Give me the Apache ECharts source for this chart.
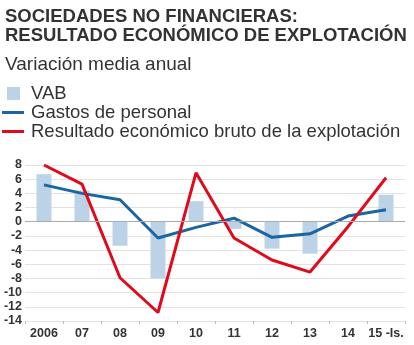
<!DOCTYPE html>
<html>
<head>
<meta charset="utf-8">
<script src="https://cdn.jsdelivr.net/npm/echarts@6/dist/echarts.min.js"></script>
<style>
html,body{margin:0;padding:0;background:#fff;}
#chart{width:414px;height:345px;}
</style>
</head>
<body>
<div id="chart"></div>
<script>
// Años y variación media anual (%)
const years = ['2006', '07', '08', '09', '10', '11', '12', '13', '14', '15 -Is.'];
const vab = [6.7, 4.4, -3.4, -8.0, 2.9, -1.0, -3.8, -4.5, 0, 3.8];
const gastosPersonal = [5.2, 4.0, 3.1, -2.3, -0.8, 0.5, -2.2, -1.7, 0.8, 1.7];
const resultadoBruto = [8.0, 5.3, -7.9, -12.8, 6.9, -2.3, -5.4, -7.1, -0.7, 6.2];

const names = ['VAB', 'Gastos de personal', 'Resultado económico bruto de la explotación'];
const FONT = '"Liberation Sans", Arial, sans-serif';
const TEXT = '#333';
const COL_BAR = '#bcd2e6';
const COL_BLUE = '#1a65a3';
const COL_RED = '#e10a1c';

const chart = echarts.init(document.getElementById('chart'));

const legendText = { fontFamily: FONT, fontSize: 18.5, color: TEXT };
const legendBase = {
  orient: 'vertical',
  itemGap: 0,
  selectedMode: false,
  padding: 0
};

chart.setOption({
  animation: false,
  textStyle: { fontFamily: FONT },
  title: [
    {
      text: 'SOCIEDADES NO FINANCIERAS:\nRESULTADO ECONÓMICO DE EXPLOTACIÓN',
      left: 5, top: 8, padding: 0,
      textStyle: { fontFamily: FONT, fontSize: 18.5, fontWeight: 'bold', color: TEXT, lineHeight: 18.5 }
    },
    {
      text: 'Variación media anual',
      left: 5, top: 55, padding: 0,
      textStyle: { fontFamily: FONT, fontSize: 19, fontWeight: 'normal', color: TEXT }
    }
  ],
  legend: [
    Object.assign({}, legendBase, {
      top: 84, left: 7, itemWidth: 13, itemHeight: 13,
      data: [{ name: names[0], icon: 'rect' }],
      textStyle: Object.assign({}, legendText, { padding: [0, 0, 0, 6] })
    }),
    Object.assign({}, legendBase, {
      top: 103, left: 2, itemWidth: 22, itemHeight: 3,
      data: [{ name: names[1], icon: 'rect' }],
      textStyle: Object.assign({}, legendText, { padding: [0, 0, 0, 2] })
    }),
    Object.assign({}, legendBase, {
      top: 122, left: 2, itemWidth: 22, itemHeight: 3,
      data: [{ name: names[2], icon: 'rect' }],
      textStyle: Object.assign({}, legendText, { padding: [0, 0, 0, 2] })
    })
  ],
  grid: { left: 25, right: 9, top: 165, bottom: 24 },
  xAxis: {
    type: 'category',
    data: years,
    axisLine: { show: false, onZero: false },
    axisTick: { show: true, length: 3, lineStyle: { color: '#bbb' } },
    axisLabel: {
      color: TEXT, fontWeight: 'bold', fontSize: 12.5, fontFamily: FONT, margin: 6,
      interval: 0, hideOverlap: false
    }
  },
  yAxis: {
    type: 'value',
    min: -14, max: 8, interval: 2,
    axisLine: { show: false },
    axisTick: { show: false },
    axisLabel: { color: TEXT, fontWeight: 'bold', fontSize: 12.5, fontFamily: FONT, margin: 3 },
    splitLine: { lineStyle: { color: '#e2e2e2', width: 1 } }
  },
  series: [
    {
      name: names[0], type: 'bar', data: vab, barWidth: 15,
      itemStyle: { color: COL_BAR },
      markLine: {
        silent: true, symbol: 'none', label: { show: false },
        lineStyle: { color: '#aaa', width: 1, type: 'solid' },
        data: [{ yAxis: 0 }]
      }
    },
    {
      name: names[1], type: 'line', data: gastosPersonal,
      showSymbol: false, symbol: 'none',
      lineStyle: { color: COL_BLUE, width: 3 }, itemStyle: { color: COL_BLUE }
    },
    {
      name: names[2], type: 'line', data: resultadoBruto,
      showSymbol: false, symbol: 'none',
      lineStyle: { color: COL_RED, width: 3 }, itemStyle: { color: COL_RED }
    }
  ]
});
</script>
</body>
</html>
